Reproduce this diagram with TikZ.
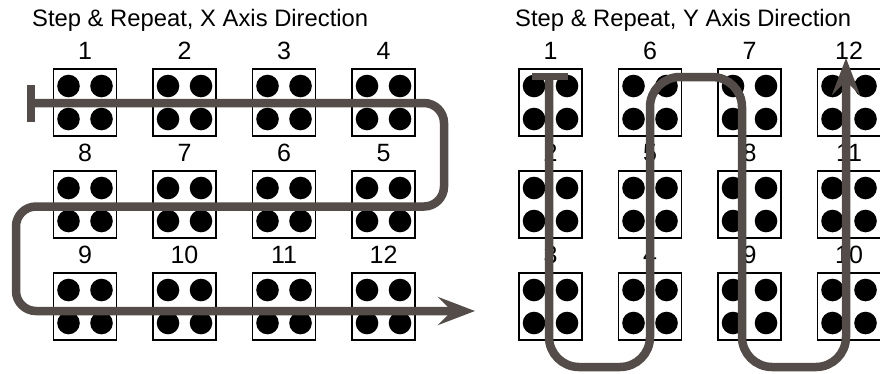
\documentclass[tikz,border=0pt]{standalone}
\usepackage{fontspec}
\setmainfont{Liberation Sans}
\usetikzlibrary{arrows.meta}
\definecolor{routegray}{HTML}{544C48}
\tikzset{
  cell/.style={draw,line width=1.6pt,minimum width=63pt,minimum height=67pt,inner sep=0pt},
  num/.style={anchor=base,inner sep=0pt,font=\fontsize{25}{25}\selectfont},
  title/.style={anchor=base west,inner sep=0pt,font=\fontsize{23.8}{24}\selectfont},
  route/.style={draw=routegray,line width=8.5pt},
  endbar/.style={draw=routegray,line width=7.5pt},
  tip/.style={-{Stealth[length=37pt,width=28pt,inset=14pt]}}
}
\begin{document}
\begin{tikzpicture}[x=1pt,y=-1pt]
  \clip (0,0) rectangle (880,373);
  \useasboundingbox (0,0) rectangle (880,373);

  \node[title] (xtitle) at (32,26) {Step \& Repeat, X Axis Direction};
  \node[title] (ytitle) at (515,26) {Step \& Repeat, Y Axis Direction};

  % X direction grid
  \foreach \n/\c/\r in {1/0/0,2/1/0,3/2/0,4/3/0,8/0/1,7/1/1,6/2/1,5/3/1,9/0/2,10/1/2,11/2/2,12/3/2}
  {
    \node[cell] (xb\n) at (85+99.5*\c,102.5+102*\r) {};
    \node[num] (xn\n) at ([yshift=9pt]xb\n.north) {\n};
    \foreach \dx in {-16.5,16.5}
      \foreach \dy in {-16.5,16.5}
        \fill ([shift={(\dx,\dy)}]xb\n.center) circle (11.3pt);
  }

  % Y direction grid
  \foreach \n/\c/\r in {1/0/0,6/1/0,7/2/0,12/3/0,2/0/1,5/1/1,8/2/1,11/3/1,3/0/2,4/1/2,9/2/2,10/3/2}
  {
    \node[cell] (yb\n) at (550.5+99.5*\c,102.5+102*\r) {};
    \node[num] (yn\n) at ([yshift=9pt]yb\n.north) {\n};
    \foreach \dx in {-16.5,16.5}
      \foreach \dy in {-16.5,16.5}
        \fill ([shift={(\dx,\dy)}]yb\n.center) circle (11.3pt);
  }

  % X route
  \coordinate (xstart) at (35,103);
  \coordinate (xend) at (475,311);
  \draw[endbar] (31,85) -- (31,122);
  \draw[route,tip,rounded corners=20pt] (xstart) -- ++(409,0) -- ++(0,103.5)
    -- ++(-428,0) -- ++(0,104.5) -- (xend);

  % Y route
  \coordinate (ystart) at (549,77);
  \coordinate (yend) at (846,58);
  \draw[endbar] (532,76.5) -- (568,76.5);
  \draw[route,tip,rounded corners=30pt] (ystart) -- ++(0,290) -- ++(101,0)
    -- ++(0,-290) -- ++(92,0) -- ++(0,290) -- ++(104,0) -- (yend);
\end{tikzpicture}
\end{document}
